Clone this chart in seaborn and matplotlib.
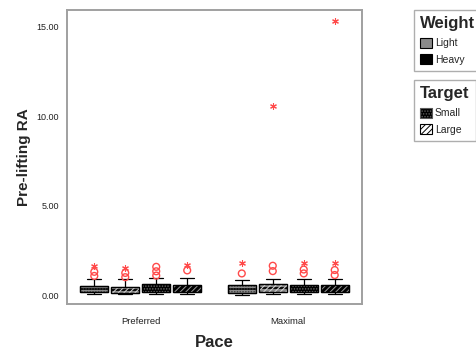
import numpy as np
import pandas as pd
import matplotlib
matplotlib.use("Agg")
import matplotlib.pyplot as plt
from matplotlib.patches import Patch, PathPatch
import seaborn as sns

# ---- data -------------------------------------------------------------
paces = ["Preferred", "Maximal"]
groups = ["Light/Small", "Light/Large", "Heavy/Small", "Heavy/Large"]

# five-number summaries per group (lower whisker, Q1, median, Q3, upper whisker)
pref_low = [0.05, 0.04, 0.06, 0.05]
pref_q1 = [0.15, 0.10, 0.18, 0.15]
pref_med = [0.34, 0.27, 0.38, 0.33]
pref_q3 = [0.52, 0.43, 0.60, 0.56]
pref_high = [0.88, 0.88, 0.93, 0.97]

max_low = [0.03, 0.06, 0.05, 0.05]
max_q1 = [0.13, 0.17, 0.15, 0.15]
max_med = [0.33, 0.38, 0.34, 0.33]
max_q3 = [0.54, 0.61, 0.54, 0.54]
max_high = [0.82, 0.88, 0.88, 0.88]

# outliers (circles) and extreme values (asterisks)
pref_outliers = [[1.07, 1.30], [1.00, 1.24], [1.09, 1.33, 1.58], [1.38]]
pref_extremes = [[1.63], [1.54], [], [1.70]]
max_outliers = [[1.21], [1.34, 1.64], [1.21, 1.43], [1.12, 1.40]]
max_extremes = [[1.77], [10.6], [1.77], [1.77, 15.36]]

y_ticks = [0.0, 5.0, 10.0, 15.0]

# ---- tidy frames --------------------------------------------------------
summaries = {
    "Preferred": (pref_low, pref_q1, pref_med, pref_q3, pref_high),
    "Maximal": (max_low, max_q1, max_med, max_q3, max_high),
}
rows = []
for pace, stats in summaries.items():
    for gi, g in enumerate(groups):
        for s in stats:
            rows.append({"Pace": pace, "Group": g, "RA": s[gi]})
df = pd.DataFrame(rows)

box_width = 0.84
slot = box_width / len(groups)


def point_rows(pref, maxi):
    out = []
    for pi, vals in enumerate([pref, maxi]):
        for gi, lst in enumerate(vals):
            for v in lst:
                out.append({"x": pi + (gi - 1.5) * slot, "RA": v})
    return pd.DataFrame(out, columns=["x", "RA"])


df_out = point_rows(pref_outliers, max_outliers)
df_ext = point_rows(pref_extremes, max_extremes)

# ---- styling ------------------------------------------------------------
sns.set_style("white")
plt.rcParams["font.family"] = ["Liberation Sans", "DejaVu Sans"]
plt.rcParams["hatch.linewidth"] = 0.7

fill_colors = ["#8a8a8a", "#8a8a8a", "#000000", "#000000"]
hatch_colors = ["#3c3c3c", "#d8d8d8", "#6a6a6a", "#9a9a9a"]
hatches = ["......", "//////", "......", "//////"]
red = "#ff4a4a"

fig = plt.figure(figsize=(4.77, 3.51), dpi=100)
ax = fig.add_axes([67 / 477, 1 - 304 / 351, 295 / 477, 294 / 351])

sns.boxplot(
    data=df, x="Pace", y="RA", hue="Group", order=paces, hue_order=groups,
    palette=fill_colors, saturation=1, width=box_width, gap=0.1,
    whis=(0, 100), showfliers=False, linecolor="black", linewidth=0.9,
    medianprops={"color": "black", "linewidth": 1.3},
    legend=False, ax=ax,
)

# pattern overlays on each box
for p in list(ax.patches):
    if not isinstance(p, PathPatch):
        continue
    xs = p.get_path().vertices[:, 0]
    cx = (xs.min() + xs.max()) / 2
    gi = int(round((cx - round(cx)) / slot + 1.5))
    gi = min(max(gi, 0), 3)
    over = PathPatch(p.get_path(), transform=p.get_transform(), facecolor="none",
                     edgecolor=hatch_colors[gi], hatch=hatches[gi], lw=0, zorder=p.get_zorder() + 0.1)
    ax.add_patch(over)
    outline = PathPatch(p.get_path(), transform=p.get_transform(), facecolor="none",
                        edgecolor="black", lw=0.9, zorder=p.get_zorder() + 0.2)
    ax.add_patch(outline)

sns.scatterplot(data=df_out, x="x", y="RA", ax=ax, marker="o", s=24,
                facecolor="none", edgecolor=red, linewidth=1.0, zorder=5)
sns.scatterplot(data=df_ext, x="x", y="RA", ax=ax, marker=(6, 2, 0), s=18,
                color=red, edgecolor=red, linewidth=0.8, zorder=5)

ax.set_xlim(-0.5, 1.5)
ax.set_ylim(-0.5, 15.95)
ax.set_xticks([0, 1])
ax.set_xticklabels(paces)
ax.set_yticks(y_ticks)
ax.set_yticklabels([f"{t:.2f}" for t in y_ticks])
ax.tick_params(axis="both", direction="out", length=4, width=2, color="black",
               labelcolor="#222222", pad=2)
ax.tick_params(axis="y", labelsize=6.5)
ax.tick_params(axis="x", labelsize=6.8, pad=5)
for s in ax.spines.values():
    s.set_color("#a0a0a0")
    s.set_linewidth(1.4)

ax.set_xlabel("Pace", fontsize=12, fontweight="bold", labelpad=7)
ax.set_ylabel("Pre-lifting RA", fontsize=11, fontweight="bold", labelpad=4)

# ---- legends ------------------------------------------------------------
w_handles = [Patch(facecolor="#8a8a8a", edgecolor="black", lw=0.8),
             Patch(facecolor="black", edgecolor="black", lw=0.8)]
t_handles = [Patch(facecolor="black", edgecolor="#5a5a5a", hatch="......", lw=0.8),
             Patch(facecolor="white", edgecolor="black", hatch="//////", lw=0.8)]

legend_kw = dict(loc="upper left", frameon=True, fancybox=False, fontsize=7.5,
                 title_fontproperties={"weight": "bold", "size": 12},
                 alignment="left", handlelength=1.1, handleheight=1.1,
                 handletextpad=0.3, labelspacing=0.6, borderpad=0.6,
                 borderaxespad=0.0)
leg1 = fig.legend(w_handles, ["Light", "Heavy"], title="Weight",
                  bbox_to_anchor=(414 / 477, 1 - 10 / 351), **legend_kw)
leg2 = fig.legend(t_handles, ["Small", "Large"], title="Target",
                  bbox_to_anchor=(414 / 477, 1 - 80 / 351), **legend_kw)
for leg in (leg1, leg2):
    fr = leg.get_frame()
    fr.set_edgecolor("#9a9a9a")
    fr.set_linewidth(1.0)

fig.savefig("out.png", dpi=100)
